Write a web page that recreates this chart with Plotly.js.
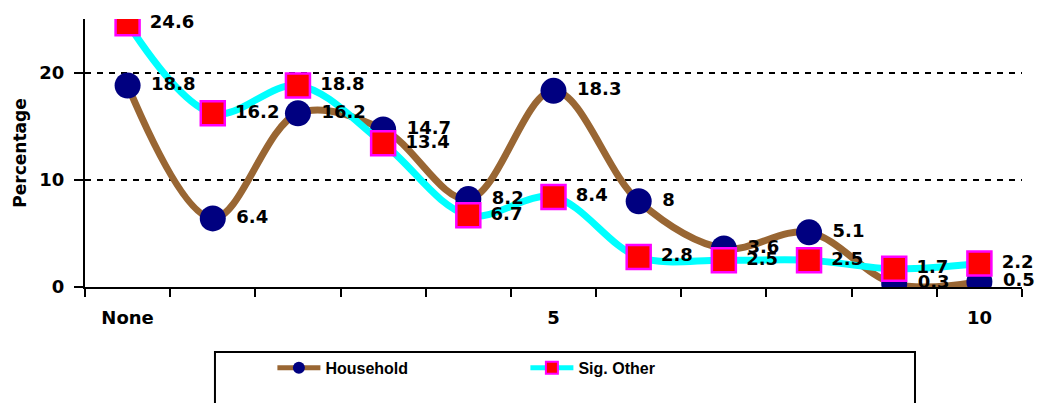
<!DOCTYPE html>
<html><head><meta charset="utf-8">
<script src="https://cdn.plot.ly/plotly-3.0.1.min.js"></script>
<style>html,body{margin:0;padding:0;background:#fff}#chart{width:1037px;height:403px}</style>
</head><body><div id="chart"></div>
<script>
const categories = ["None","1","2","3","4","5","6","7","8","9","10"];
const tickLabels = ["None","","","","","5","","","","","10"];
const household = [18.8, 6.4, 16.2, 14.7, 8.2, 18.3, 8, 3.6, 5.1, 0.3, 0.5];
const sigOther = [24.6, 16.2, 18.8, 13.4, 6.7, 8.4, 2.8, 2.5, 2.5, 1.7, 2.2];

const FONT = "DejaVu Sans, Liberation Sans, Arial, sans-serif";
const labelFont = {family: FONT, size: 18, color: "#000", weight: "bold"};

function lineTrace(name, ys, lineColor, marker) {
  return {
    name: name, x: categories, y: ys, type: "scatter", mode: "lines+markers",
    line: {color: lineColor, width: 7, shape: "spline", smoothing: 1},
    marker: marker, hoverinfo: "skip"
  };
}
function labelTrace(name, ys, markerSize) {
  return {
    name: name, x: categories, y: ys, type: "scatter", mode: "markers+text",
    text: ys.map(v => "\u00a0" + v), textposition: "middle right",
    textfont: labelFont, cliponaxis: false, showlegend: false,
    marker: {size: markerSize, color: "rgba(0,0,0,0)", line: {width: 0}},
    hoverinfo: "skip"
  };
}

const traces = [
  lineTrace("Household", household, "#996633", {symbol: "circle", size: 26, color: "#000080", line: {width: 0}}),
  lineTrace("Sig. Other", sigOther, "#00FFFF", {symbol: "square", size: 24, color: "#FF0000", line: {width: 2.5, color: "#FF00FF"}}),
  labelTrace("Household", household, 26),
  labelTrace("Sig. Other", sigOther, 24)
];

const layout = {
  width: 1037, height: 403,
  margin: {l: 85, r: 15, t: 19, b: 116},
  paper_bgcolor: "#fff", plot_bgcolor: "#fff",
  font: {family: FONT, color: "#000"},
  showlegend: true,
  xaxis: {
    type: "category", tickson: "boundaries", tickmode: "array",
    tickvals: categories, ticktext: tickLabels,
    range: [-0.5, 10.5], showline: true, linecolor: "#000", linewidth: 2,
    ticks: "outside", ticklen: 8, tickwidth: 2, tickcolor: "#000",
    ticklabelstandoff: 13,
    showgrid: false, zeroline: false,
    tickfont: {family: FONT, size: 18, color: "#000", weight: "bold"}
  },
  yaxis: {
    range: [0, 25], tickmode: "array", tickvals: [0, 10, 20],
    showline: true, linecolor: "#000", linewidth: 2,
    ticks: "outside", ticklen: 9, tickwidth: 2, tickcolor: "#000",
    ticklabelstandoff: 6,
    showgrid: true, gridcolor: "#000", gridwidth: 2, griddash: "6px,6px",
    zeroline: false,
    tickfont: {family: FONT, size: 18, color: "#000", weight: "bold"},
    title: {text: "Percentage", standoff: 8, font: {family: FONT, size: 17, color: "#000", weight: "bold"}}
  },
  legend: {
    orientation: "h", x: 0.2, xanchor: "left", y: -0.302, yanchor: "middle",
    bgcolor: "rgba(0,0,0,0)", borderwidth: 0,
    itemwidth: 43, itemsizing: "constant",
    entrywidth: 195, entrywidthmode: "pixels",
    font: {family: "Liberation Sans, Arial, sans-serif", size: 16, color: "#000", weight: "bold"}
  },
  shapes: [{
    type: "rect", xref: "paper", yref: "paper",
    x0: 0.1387, x1: 0.8858, y0: -0.2425, y1: -0.55,
    line: {color: "#000", width: 2}, fillcolor: "rgba(0,0,0,0)", layer: "above"
  }]
};

Plotly.newPlot("chart", traces, layout, {displayModeBar: false, staticPlot: true});
</script></body></html>
